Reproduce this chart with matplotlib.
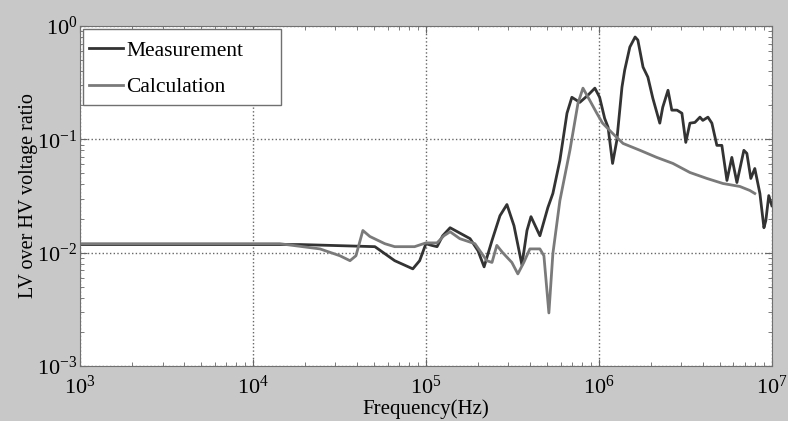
import numpy as np
import matplotlib.pyplot as plt
from matplotlib.patches import Rectangle
from matplotlib.ticker import LogLocator, LogFormatterMathtext, NullFormatter

plt.rcParams['font.family'] = ['Liberation Serif', 'DejaVu Serif']
plt.rcParams['mathtext.fontset'] = 'custom'
plt.rcParams['mathtext.rm'] = 'Liberation Serif'
plt.rcParams['mathtext.it'] = 'Liberation Serif:italic'

# measured curve (frequency in Hz, ratio)
meas_f = [1e3, 1.87e4, 5.07e4, 6.6e4, 8.4e4, 9.2e4, 1.0e5, 1.08e5, 1.16e5, 1.25e5,
          1.38e5, 1.8e5, 2.0e5, 2.17e5, 2.41e5, 2.68e5, 2.94e5, 3.23e5, 3.59e5, 3.84e5,
          4.05e5, 4.56e5, 5.07e5, 5.42e5, 5.95e5, 6.54e5, 6.98e5, 7.76e5, 8.64e5, 9.48e5,
          1.01e6, 1.08e6, 1.13e6, 1.2e6, 1.27e6, 1.36e6, 1.41e6, 1.51e6, 1.62e6, 1.68e6,
          1.80e6, 1.92e6, 2.05e6, 2.25e6, 2.34e6, 2.51e6, 2.64e6, 2.83e6, 3.02e6, 3.18e6,
          3.36e6, 3.59e6, 3.84e6, 3.99e6, 4.27e6, 4.5e6, 4.81e6, 5.14e6, 5.5e6, 5.87e6,
          6.28e6, 6.89e6, 7.17e6, 7.56e6, 7.97e6, 8.53e6, 9.0e6, 9.23e6, 9.6e6, 1e7]
meas_v = [0.0118, 0.0118, 0.0113, 0.0085, 0.0072, 0.0085, 0.012, 0.0116, 0.0113, 0.0141,
          0.0166, 0.0133, 0.0104, 0.0075, 0.0128, 0.0212, 0.0266, 0.0173, 0.0078, 0.0157,
          0.0208, 0.0141, 0.025, 0.0333, 0.0652, 0.17, 0.235, 0.212, 0.245, 0.283,
          0.235, 0.153, 0.128, 0.0613, 0.098, 0.289, 0.408, 0.652, 0.80, 0.752,
          0.434, 0.354, 0.231, 0.139, 0.192, 0.271, 0.181, 0.181, 0.170, 0.094,
          0.139, 0.141, 0.157, 0.147, 0.157, 0.139, 0.0885, 0.0885, 0.0434, 0.0693,
          0.0416, 0.080, 0.0752, 0.0452, 0.0553, 0.0333, 0.0166, 0.0192, 0.0319, 0.026]

# calculated curve
calc_f = [1e3, 1.43e4, 2.44e4, 3.18e4, 3.64e4, 3.94e4, 4.32e4, 4.74e4, 5.79e4, 6.6e4,
          8.6e4, 1.0e5, 1.16e5, 1.27e5, 1.38e5, 1.57e5, 1.92e5, 2.25e5, 2.41e5, 2.57e5,
          2.78e5, 3.14e5, 3.4e5, 3.68e5, 3.99e5, 4.56e5, 4.81e5, 5.14e5, 5.42e5, 5.95e5,
          6.8e5, 7.57e5, 8.09e5, 8.87e5, 9.73e5, 1.05e6, 1.2e6, 1.38e6, 1.73e6, 2.16e6,
          2.68e6, 3.36e6, 4.21e6, 5.21e6, 6.53e6, 7.46e6, 7.97e6]
calc_v = [0.012, 0.012, 0.0108, 0.0094, 0.0085, 0.0094, 0.0157, 0.0139, 0.012, 0.0113,
          0.0113, 0.0122, 0.0122, 0.0141, 0.0153, 0.0133, 0.012, 0.0085, 0.0082, 0.0116,
          0.010, 0.0082, 0.0065, 0.0082, 0.0108, 0.0108, 0.0094, 0.00294, 0.0098, 0.0288,
          0.080, 0.208, 0.283, 0.22, 0.17, 0.139, 0.113, 0.092, 0.080, 0.0693,
          0.0613, 0.051, 0.0452, 0.0408, 0.0384, 0.0354, 0.0333]

fig = plt.figure(figsize=(7.88, 4.21), dpi=100, facecolor='#c8c8c8')
ax = fig.add_axes([0.1015, 0.1306, 0.878, 0.8076])

ax.loglog(meas_f, meas_v, color='#333333', lw=2, label='Measurement')
ax.loglog(calc_f, calc_v, color='#7a7a7a', lw=2, label='Calculation')

ax.set_xlim(1e3, 1e7)
ax.set_ylim(1e-3, 1e0)
ax.xaxis.set_major_locator(LogLocator(base=10, numticks=10))
ax.yaxis.set_major_locator(LogLocator(base=10, numticks=10))
ax.xaxis.set_minor_locator(LogLocator(base=10, subs=np.arange(2, 10), numticks=20))
ax.yaxis.set_minor_locator(LogLocator(base=10, subs=np.arange(2, 10), numticks=20))
ax.xaxis.set_major_formatter(LogFormatterMathtext())
ax.yaxis.set_major_formatter(LogFormatterMathtext())
ax.xaxis.set_minor_formatter(NullFormatter())
ax.yaxis.set_minor_formatter(NullFormatter())

ax.grid(True, which='major', linestyle=':', color='#666666', lw=1)
ax.tick_params(which='both', direction='in', top=True, right=True, color='#666666')
ax.tick_params(which='major', length=5, labelsize=16)
ax.tick_params(axis='x', which='major', pad=7)
ax.tick_params(axis='y', which='major', pad=2)
ax.tick_params(which='minor', length=3)
for s in ax.spines.values():
    s.set_color('#707070')

ax.set_xlabel('Frequency(Hz)', fontsize=15, labelpad=0)
ax.set_ylabel('LV over HV voltage ratio', fontsize=14.5, labelpad=-1)

# legend box is wider than its text, so the frame is drawn separately
ax.add_patch(Rectangle((0.004, 0.768), 0.286, 0.223, transform=ax.transAxes,
                       facecolor='white', edgecolor='#707070', lw=1, zorder=4))
leg = ax.legend(loc='upper left', bbox_to_anchor=(0.004, 0.975), fontsize=15.5,
                frameon=False, handlelength=1.6, handletextpad=0.15,
                borderaxespad=0, labelspacing=0.78, borderpad=0.28)
leg.set_zorder(5)

fig.savefig('out.png', dpi=100, facecolor=fig.get_facecolor())
